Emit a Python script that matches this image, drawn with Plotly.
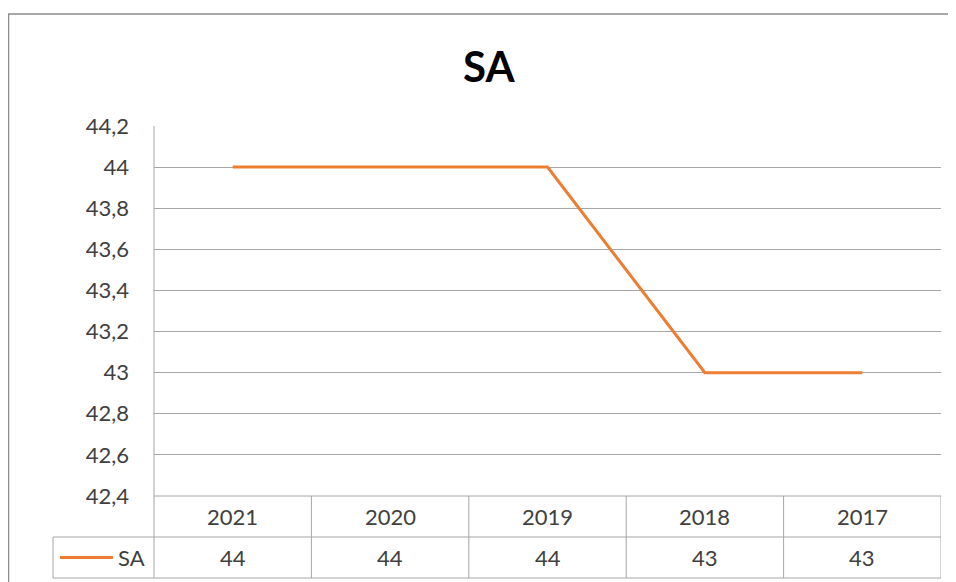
import plotly.graph_objects as go

categories = ["2021", "2020", "2019", "2018", "2017"]
sa_values = [44, 44, 44, 43, 43]
series_name = "SA"
chart_title = "SA"
y_tick_vals = [42.4, 42.6, 42.8, 43.0, 43.2, 43.4, 43.6, 43.8, 44.0, 44.2]
y_tick_text = ["42,4", "42,6", "42,8", "43", "43,2", "43,4", "43,6", "43,8", "44", "44,2"]

W, H = 956, 582
OFF = 8  # page body margin of the viewer
FONT = "Lato"
TXT = "#404040"
GRID = "#A6A6A6"
ORANGE = "#ED7D31"

def px_x(v):
    return (v - OFF) / W

def px_y(v):
    return 1 - (v - OFF) / H

plot_l, plot_r, plot_t, plot_b = 154, 941, 126, 496
row1_b, row2_b = 537, 578
legend_l = 53

fig = go.Figure()
fig.add_trace(go.Scatter(
    x=list(range(len(categories))), y=sa_values, mode="lines", name=series_name,
    line=dict(color=ORANGE, width=3), showlegend=False, hoverinfo="x+y",
))

shapes = []
# outer chart border (top and left edges; right/bottom lie outside the picture)
shapes.append(dict(type="line", xref="paper", yref="paper",
                   x0=px_x(8), x1=1, y0=px_y(14), y1=px_y(14),
                   line=dict(color="#8C8C8C", width=1.5)))
shapes.append(dict(type="line", xref="paper", yref="paper",
                   x0=px_x(8.5), x1=px_x(8.5), y0=px_y(14), y1=0,
                   line=dict(color="#8C8C8C", width=1.5)))
# left axis line
shapes.append(dict(type="line", xref="paper", yref="paper",
                   x0=px_x(plot_l), x1=px_x(plot_l), y0=px_y(plot_t), y1=px_y(row2_b),
                   line=dict(color=GRID, width=1)))
# table horizontal lines
for yy, xl in [(plot_b, plot_l), (row1_b, legend_l), (row2_b, legend_l)]:
    shapes.append(dict(type="line", xref="paper", yref="paper",
                       x0=px_x(xl), x1=px_x(plot_r), y0=px_y(yy), y1=px_y(yy),
                       line=dict(color=GRID, width=1)))
# legend cell left edge
shapes.append(dict(type="line", xref="paper", yref="paper",
                   x0=px_x(legend_l), x1=px_x(legend_l), y0=px_y(row1_b), y1=px_y(row2_b),
                   line=dict(color=GRID, width=1)))
# column boundaries
for i in range(len(categories)):
    xb = i + 0.5
    shapes.append(dict(type="line", xref="x", yref="paper",
                       x0=xb, x1=xb, y0=px_y(plot_b), y1=px_y(row2_b),
                       line=dict(color=GRID, width=1)))
# legend key line
shapes.append(dict(type="line", xref="paper", yref="paper",
                   x0=px_x(60), x1=px_x(113), y0=px_y(557.5), y1=px_y(557.5),
                   line=dict(color=ORANGE, width=3)))

annotations = []
for i, (c, v) in enumerate(zip(categories, sa_values)):
    annotations.append(dict(x=i, y=px_y((plot_b + row1_b) / 2), xref="x", yref="paper",
                            text=c, showarrow=False, xanchor="center", yanchor="middle",
                            font=dict(family=FONT, size=22, color=TXT)))
    annotations.append(dict(x=i, y=px_y((row1_b + row2_b) / 2), xref="x", yref="paper",
                            text=str(v), showarrow=False, xanchor="center", yanchor="middle",
                            font=dict(family=FONT, size=22, color=TXT)))
annotations.append(dict(x=px_x(147), y=px_y((row1_b + row2_b) / 2), xref="paper", yref="paper",
                        text=series_name, xanchor="right", yanchor="middle", showarrow=False,
                        font=dict(family=FONT, size=22, color=TXT)))
annotations.append(dict(x=px_x(489), y=px_y(66), xref="paper", yref="paper",
                        text="<b>" + chart_title + "</b>", showarrow=False,
                        xanchor="center", yanchor="middle",
                        font=dict(family=FONT, size=42, color="#000000")))

fig.update_layout(
    width=W, height=H,
    margin=dict(l=0, r=0, t=0, b=0, pad=0, autoexpand=False),
    paper_bgcolor="white", plot_bgcolor="white",
    shapes=shapes, annotations=annotations,
    xaxis=dict(domain=[px_x(plot_l), px_x(plot_r)], range=[-0.5, len(categories) - 0.5],
               showgrid=False, zeroline=False, showticklabels=False, showline=False,
               automargin=False, fixedrange=True),
    yaxis=dict(domain=[px_y(plot_b), px_y(plot_t)], range=[42.4, 44.2],
               tickvals=y_tick_vals, ticktext=y_tick_text,
               showgrid=True, gridcolor=GRID, gridwidth=1, zeroline=False,
               showline=False, ticks="", ticklabelstandoff=24, automargin=False,
               tickfont=dict(family=FONT, size=22, color=TXT), fixedrange=True),
    showlegend=False,
)

fig.write_html("out.html")
